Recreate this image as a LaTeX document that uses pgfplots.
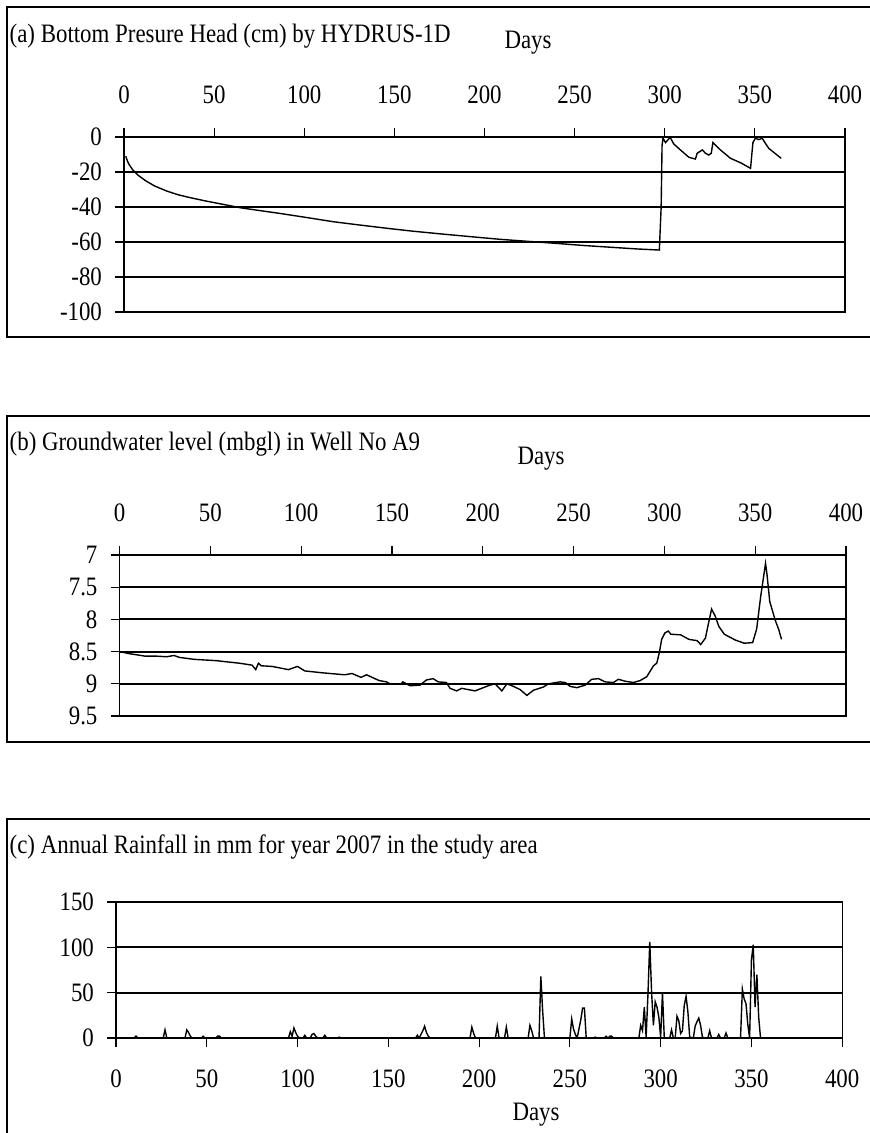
\documentclass[border=0pt]{standalone}
\usepackage{fontspec}
\setmainfont[FakeStretch=0.86]{Liberation Serif}
\usepackage{pgfplots}
\pgfplotsset{compat=1.18}
\newcommand{\tf}{\fontsize{13.3}{16}\selectfont}
\pgfplotsset{myax/.style={
  scale only axis, xmin=0, xmax=400,
  xtick={0,50,100,150,200,250,300,350,400},
  xticklabels={0,50,100,150,200,250,300,350,400},
  tick align=outside, major tick length=4.5pt,
  ymajorgrids, grid style={black, line width=1pt},
  axis line style={black, line width=0.6pt},
  tick style={black, line width=0.6pt},
  every tick label/.append style={font=\tf},
  ytick pos=left, yticklabel shift=3pt,
}}
\begin{document}
\begin{tikzpicture}[font=\tf]
\path[use as bounding box] (0,0) rectangle (435pt,-566.5pt);
\begin{scope}
\clip (0,0) rectangle (435pt,-566.5pt);
\draw[line width=1pt] (3.65pt,-3.65pt) rectangle (440pt,-168.6pt);
\draw[line width=1pt] (3.65pt,-208pt) rectangle (440pt,-370.8pt);
\draw[line width=1pt] (3.65pt,-409.6pt) rectangle (440pt,-600pt);
\end{scope}
\node[anchor=base west, inner sep=0] at (4.65pt,-21.3pt) {(a) Bottom Presure Head (cm) by HYDRUS-1D};
\node at (264pt,-21.5pt) {Days};
\node[anchor=base west, inner sep=0] at (4.65pt,-225.3pt) {(b) Groundwater level (mbgl) in Well No A9};
\node at (270.5pt,-229.5pt) {Days};
\node[anchor=base west, inner sep=0] at (4.65pt,-426.7pt) {(c) Annual Rainfall in mm for year 2007 in the study area};
\node at (268pt,-557.5pt) {Days};

% (a)
\begin{axis}[myax, at={(62pt,-156pt)}, anchor=south west,
  width=360.5pt, height=87.5pt,
  ymin=-100, ymax=0, ytick={-100,-80,-60,-40,-20,0},
  yticklabels={-100,-80,-60,-40,-20,0},
  xtick pos=right, xticklabel pos=right, xticklabel shift=8.5pt]
\addplot[black, line width=0.7pt] coordinates {
(1,-11) (2,-14) (3,-16) (5,-19) (8,-22) (12,-25) (17,-28) (24,-31) (30,-33) (36,-34.5) (45,-36.5) (55,-38.5) (65,-40.5) (75,-42) (86,-43.6) (100,-45.8) (116,-48.4) (130,-50.2) (147,-52.3) (160,-53.8) (178,-55.6) (195,-57.2) (209,-58.5) (225,-59.7) (240,-60.8) (255,-62) (270,-63) (285,-64) (297,-64.6) (298,-40) (298.5,-5) (299,-0.7) (300.4,-3.2) (303,-0.2) (305,-4) (308.7,-7.4) (313.4,-11.6) (317,-12.6) (318,-9.3) (320.8,-7.4) (322.6,-9.3) (324.4,-10.3) (325.8,-9.3) (326.7,-3.2) (330.9,-7.4) (336.5,-12.2) (342,-14.7) (347.6,-17.9) (348.9,-3.2) (350.3,-0.7) (352.2,-1.5) (354,-0.7) (357.7,-6.5) (360.5,-8.8) (364.6,-12.2)
};
\end{axis}

% (b)
\begin{axis}[myax, at={(59.75pt,-358pt)}, anchor=south west,
  width=363.25pt, height=80.5pt,
  y dir=reverse, ymin=7, ymax=9.5, ytick={7,7.5,8,8.5,9,9.5},
  yticklabels={7,7.5,8,8.5,9,9.5},
  xtick pos=right, xticklabel pos=right, xticklabel shift=8.5pt]
\addplot[black, line width=0.7pt] coordinates {
(0,8.50)(5,8.53)(14,8.57)(20,8.57)(26,8.58)(30,8.56)(33,8.59)(41,8.62)(53,8.64)(66,8.68)(73,8.71)(75,8.78)(76.5,8.68)(78,8.72)(84,8.73)(93,8.78)(98,8.73)(102,8.80)(112,8.83)(124,8.86)(128,8.84)(133,8.90)(136,8.86)(143,8.95)(147,8.97)(149,9.0)(155,9.0)(156,8.97)(160,9.03)(165.5,9.02)(169,8.94)(172.7,8.92)(175.5,8.97)(180,8.98)(182,9.07)(185.6,9.11)(188.4,9.07)(192,9.09)(195.8,9.11)(199.4,9.07)(204,9.02)(206.8,9.0)(210.5,9.11)(213.3,9.0)(216.9,9.04)(220.6,9.09)(224.3,9.18)(227.9,9.10)(233.4,9.05)(236.2,9.0)(242.6,8.97)(245.4,8.98)(248.1,9.04)(251.8,9.06)(256.4,9.02)(260,8.93)(263.7,8.92)(267.4,8.97)(272,8.98)(274.7,8.93)(278.4,8.96)(283,8.98)(286.6,8.95)(290.3,8.89)(294,8.72)(295.8,8.68)(297.2,8.52)(298.5,8.31)(300.3,8.21)(302.2,8.18)(303.5,8.23)(309,8.24)(313.5,8.31)(318,8.33)(320,8.39)(322.6,8.29)(324,8.1)(326,7.84)(328,7.95)(330,8.11)(333,8.23)(339,8.32)(344,8.37)(348.6,8.36)(350.8,8.15)(353,7.65)(355.7,7.13)(356.5,7.3)(358,7.72)(361,8.01)(363,8.16)(364.5,8.31)
};
\end{axis}

% (c)
\begin{axis}[myax, at={(58pt,-519pt)}, anchor=south west,
  width=363.1pt, height=68pt,
  ymin=0, ymax=150, ytick={0,50,100,150},
  yticklabels={0,50,100,150},
  xtick pos=left, xticklabel pos=left, xticklabel shift=8pt]
\addplot[black, line width=0.7pt] coordinates {
(0,0)(10,0)(11,2)(12,0)(26,0)(27,9)(28,0)(38,0)(39,9)(40,6)(41,2)(42,0)(47,0)(48,2)(49,0)(55,0)(56,2)(57,2)(58,0)(95,0)(96,7)(97,2)(98,11)(99,6)(100,2)(101,0)(103,0)(104,3)(105,0)(107,0)(108,4)(109,5)(110,2)(111,0)(114,0)(115,3)(116,0)(122,0)(123,1)(124,0)(165,0)(166,3)(167,0)(168,4)(169,8)(170,13)(171,6)(172,2)(173,0)(195,0)(196,12)(197,5)(198,0)(209,0)(210,13)(211,0)(214,0)(215,12)(216,0)(227,0)(228,14)(229,8)(230,0)(233,0)(234,68)(235,30)(236,0)(250,0)(251,21)(252,10)(253,4)(254,0)(255,10)(256,20)(257,33)(258,33)(259,0)(263,0)(264,1)(265,0)(269,0)(270,2)(271,0)(272,2)(273,2)(274,0)(288,0)(289,14)(290,8)(291,34)(292,1)(293,48)(294,106)(295,51)(296,14)(297,40)(298,34)(299,23)(300,1)(301,50)(302,0)(305,0)(306,9)(307,0)(308,0)(309,24)(310,19)(311,5)(312,8)(313,36)(314,46)(315,29)(316,1)(318,0)(319,13)(320,18)(321,22)(322,14)(323,1)(324,0)(326,0)(327,8)(328,0)(331,0)(332,4)(333,0)(335,0)(336,5.5)(337,0)(344,0)(345,54)(346,43)(347,38)(348,15)(349,0)(350,86)(351,103)(352,34)(353,70)(354,23)(355,0)(365,0)
};
\end{axis}
\end{tikzpicture}
\end{document}
